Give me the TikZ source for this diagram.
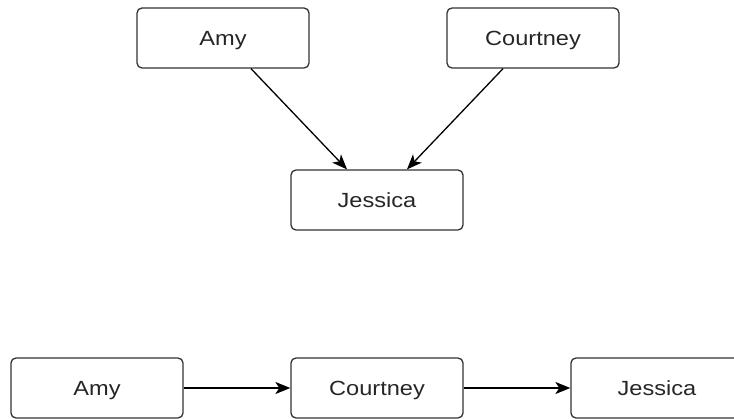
\documentclass[tikz,border=0pt]{standalone}
\usepackage{fontspec}
\setmainfont{Liberation Sans}
\usetikzlibrary{arrows.meta}
\newcommand{\wtxt}[1]{\scalebox{1.15}[1]{#1}}
\begin{document}
\begin{tikzpicture}[x=1pt,y=-1pt,
  box/.style={draw=black!80,line width=1.3pt,rounded corners=5pt,minimum width=172pt,minimum height=60pt,inner sep=0pt,fill=white,font=\fontsize{20.5}{24}\selectfont,text=black!85,text height=16pt,text depth=0pt},
  conn/.style={line width=1.3pt,-{Stealth[length=15pt,width=12pt,inset=4pt]}}]
\useasboundingbox (0,0) rectangle (734,419);
\clip (0,0) rectangle (734,419);
\node[box] (amy1) at (223,38) {\wtxt{Amy}};
\node[box] (court1) at (533,38) {\wtxt{Courtney}};
\node[box] (jes1) at (377,200) {\wtxt{Jessica}};
\node[box] (amy2) at (97,388) {\wtxt{Amy}};
\node[box] (court2) at (377,388) {\wtxt{Courtney}};
\node[box] (jes2) at (657,388) {\wtxt{Jessica}};
\draw[conn] ([xshift=28pt]amy1.south) -- ([xshift=-30pt]jes1.north);
\draw[conn] ([xshift=-30pt]court1.south) -- ([xshift=30pt]jes1.north);
\draw[conn] (amy2) -- (court2);
\draw[conn] (court2) -- (jes2);
\end{tikzpicture}
\end{document}
